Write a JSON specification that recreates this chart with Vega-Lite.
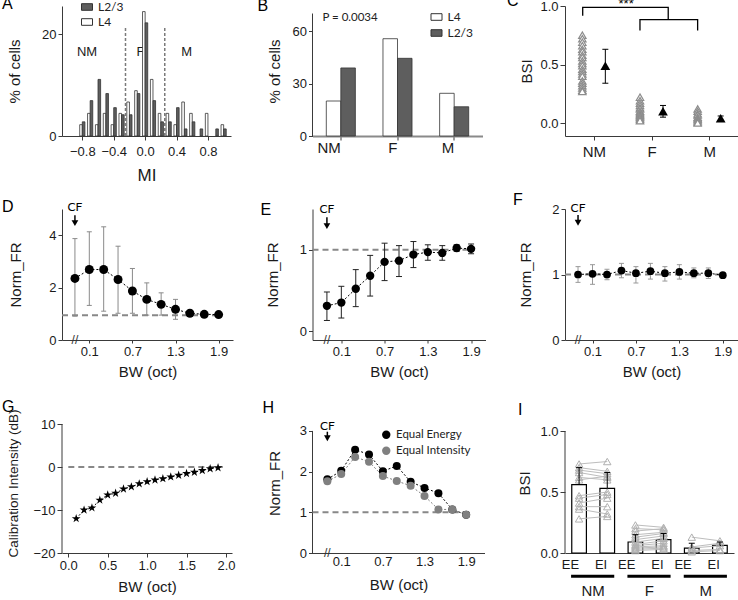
{
"$schema":"https://vega.github.io/schema/vega-lite/v6.json",
"background":"white",
"padding":{"left":2,"top":-7,"right":0,"bottom":0},
"config":{
 "view":{"stroke":null},
 "font":"Liberation Sans",
 "axis":{"grid":false,"domainColor":"#3a3a3a","tickColor":"#3a3a3a","labelColor":"#1a1a1a","titleColor":"#1a1a1a","labelFontSize":13,"titleFontSize":15,"titleFontWeight":"normal","tickSize":4,"labelFont":"Liberation Sans","titleFont":"Liberation Sans"},
 "title":{"fontSize":16,"fontWeight":"normal","anchor":"start","frame":"group","offset":0,"baseline":"alphabetic","font":"Liberation Sans","color":"#000000"}
},
"datasets":{
 "hist":[
  {"mi":-0.8,"layer":"L4","pct":2.22},{"mi":-0.7,"layer":"L4","pct":4.44},{"mi":-0.6,"layer":"L4","pct":2.22},{"mi":-0.5,"layer":"L4","pct":4.44},{"mi":-0.4,"layer":"L4","pct":2.22},{"mi":-0.3,"layer":"L4","pct":4.44},{"mi":-0.2,"layer":"L4","pct":6.67},{"mi":-0.1,"layer":"L4","pct":8.89},{"mi":0.0,"layer":"L4","pct":24.4},{"mi":0.1,"layer":"L4","pct":11.1},{"mi":0.2,"layer":"L4","pct":4.44},{"mi":0.3,"layer":"L4","pct":4.44},{"mi":0.4,"layer":"L4","pct":2.22},{"mi":0.5,"layer":"L4","pct":6.67},{"mi":0.6,"layer":"L4","pct":4.44},{"mi":0.8,"layer":"L4","pct":4.44},{"mi":1.0,"layer":"L4","pct":2.22},
  {"mi":-0.8,"layer":"L2/3","pct":2.78},{"mi":-0.7,"layer":"L2/3","pct":6.94},{"mi":-0.6,"layer":"L2/3","pct":11.1},{"mi":-0.5,"layer":"L2/3","pct":8.33},{"mi":-0.4,"layer":"L2/3","pct":5.56},{"mi":-0.3,"layer":"L2/3","pct":4.17},{"mi":-0.2,"layer":"L2/3","pct":4.17},{"mi":-0.1,"layer":"L2/3","pct":8.33},{"mi":0.0,"layer":"L2/3","pct":22.2},{"mi":0.1,"layer":"L2/3","pct":6.94},{"mi":0.2,"layer":"L2/3","pct":2.78},{"mi":0.3,"layer":"L2/3","pct":2.78},{"mi":0.4,"layer":"L2/3","pct":5.56},{"mi":0.5,"layer":"L2/3","pct":1.39},{"mi":0.6,"layer":"L2/3","pct":2.78},{"mi":0.7,"layer":"L2/3","pct":1.39},{"mi":0.9,"layer":"L2/3","pct":1.39},{"mi":1.0,"layer":"L2/3","pct":1.39}
 ],
 "cls":[
  {"cls":"NM","layer":"L4","pct":20.0},{"cls":"NM","layer":"L2/3","pct":38.9},{"cls":"F","layer":"L4","pct":55.6},{"cls":"F","layer":"L2/3","pct":44.4},{"cls":"M","layer":"L4","pct":24.4},{"cls":"M","layer":"L2/3","pct":16.7}
 ],
 "cInd":[
  {"gi":1,"bsi":0.75},{"gi":1,"bsi":0.72},{"gi":1,"bsi":0.69},{"gi":1,"bsi":0.66},{"gi":1,"bsi":0.63},{"gi":1,"bsi":0.61},{"gi":1,"bsi":0.58},{"gi":1,"bsi":0.56},{"gi":1,"bsi":0.53},{"gi":1,"bsi":0.51},{"gi":1,"bsi":0.49},{"gi":1,"bsi":0.46},{"gi":1,"bsi":0.44},{"gi":1,"bsi":0.42},{"gi":1,"bsi":0.4},{"gi":1,"bsi":0.36},{"gi":1,"bsi":0.34},{"gi":1,"bsi":0.32},{"gi":1,"bsi":0.3},{"gi":1,"bsi":0.28},{"gi":1,"bsi":0.27},
  {"gi":2,"bsi":0.22},{"gi":2,"bsi":0.19},{"gi":2,"bsi":0.17},{"gi":2,"bsi":0.15},{"gi":2,"bsi":0.13},{"gi":2,"bsi":0.12},{"gi":2,"bsi":0.1},{"gi":2,"bsi":0.09},{"gi":2,"bsi":0.08},{"gi":2,"bsi":0.07},{"gi":2,"bsi":0.06},{"gi":2,"bsi":0.05},{"gi":2,"bsi":0.04},{"gi":2,"bsi":0.03},{"gi":2,"bsi":0.02},
  {"gi":3,"bsi":0.12},{"gi":3,"bsi":0.1},{"gi":3,"bsi":0.08},{"gi":3,"bsi":0.07},{"gi":3,"bsi":0.05},{"gi":3,"bsi":0.04},{"gi":3,"bsi":0.03},{"gi":3,"bsi":0.02},{"gi":3,"bsi":0.01},{"gi":3,"bsi":0.0}
 ],
 "cMean":[{"gi":1,"m":0.49,"lo":0.34,"hi":0.63},{"gi":2,"m":0.1,"lo":0.05,"hi":0.15},{"gi":3,"m":0.04,"lo":0.02,"hi":0.06}],
 "cBr":[
  {"b":1,"o":1,"x":0.807,"y":0.917},{"b":1,"o":2,"x":0.807,"y":0.989},{"b":1,"o":3,"x":2.29,"y":0.989},{"b":1,"o":4,"x":2.29,"y":0.883},
  {"b":2,"o":1,"x":1.8,"y":0.79},{"b":2,"o":2,"x":1.8,"y":0.883},{"b":2,"o":3,"x":2.8,"y":0.883},{"b":2,"o":4,"x":2.8,"y":0.79}
 ],
 "dD":[{"bw":-0.1,"m":2.35,"lo":0.91,"hi":3.87},{"bw":0.1,"m":2.69,"lo":1.32,"hi":4.13},{"bw":0.3,"m":2.69,"lo":1.1,"hi":4.32},{"bw":0.5,"m":2.31,"lo":1.02,"hi":3.58},{"bw":0.7,"m":1.87,"lo":1.02,"hi":2.73},{"bw":0.9,"m":1.55,"lo":0.95,"hi":2.18},{"bw":1.1,"m":1.36,"lo":0.95,"hi":1.8},{"bw":1.3,"m":1.17,"lo":0.79,"hi":1.55},{"bw":1.5,"m":1.02,"lo":0.91,"hi":1.1},{"bw":1.7,"m":0.98,"lo":0.93,"hi":1.03},{"bw":1.9,"m":0.97,"lo":0.94,"hi":1.0}],
 "dE":[{"bw":-0.1,"m":0.31,"lo":0.13,"hi":0.48},{"bw":0.1,"m":0.35,"lo":0.16,"hi":0.55},{"bw":0.3,"m":0.52,"lo":0.3,"hi":0.755},{"bw":0.5,"m":0.68,"lo":0.43,"hi":0.93},{"bw":0.7,"m":0.85,"lo":0.62,"hi":1.08},{"bw":0.9,"m":0.865,"lo":0.67,"hi":1.05},{"bw":1.1,"m":0.94,"lo":0.78,"hi":1.1},{"bw":1.3,"m":0.97,"lo":0.87,"hi":1.06},{"bw":1.5,"m":0.96,"lo":0.87,"hi":1.05},{"bw":1.7,"m":1.02,"lo":0.98,"hi":1.06},{"bw":1.9,"m":1.01,"lo":0.95,"hi":1.07}],
 "dF":[{"bw":-0.1,"m":1.0,"lo":0.88,"hi":1.12},{"bw":0.1,"m":1.01,"lo":0.85,"hi":1.15},{"bw":0.3,"m":1.0,"lo":0.92,"hi":1.08},{"bw":0.5,"m":1.06,"lo":0.95,"hi":1.17},{"bw":0.7,"m":1.02,"lo":0.87,"hi":1.12},{"bw":0.9,"m":1.05,"lo":0.93,"hi":1.17},{"bw":1.1,"m":1.02,"lo":0.9,"hi":1.12},{"bw":1.3,"m":1.04,"lo":0.93,"hi":1.15},{"bw":1.5,"m":1.02,"lo":0.95,"hi":1.1},{"bw":1.7,"m":1.02,"lo":0.94,"hi":1.1},{"bw":1.9,"m":0.99,"lo":0.99,"hi":0.99}],
 "dG":[{"bw":0.1,"db":-12.0},{"bw":0.2,"db":-10.0},{"bw":0.3,"db":-9.5},{"bw":0.4,"db":-7.7},{"bw":0.5,"db":-6.5},{"bw":0.6,"db":-6.1},{"bw":0.7,"db":-5.1},{"bw":0.8,"db":-4.6},{"bw":0.9,"db":-3.9},{"bw":1.0,"db":-3.4},{"bw":1.1,"db":-3.0},{"bw":1.2,"db":-2.7},{"bw":1.3,"db":-2.3},{"bw":1.4,"db":-1.9},{"bw":1.5,"db":-1.5},{"bw":1.6,"db":-1.2},{"bw":1.7,"db":-0.8},{"bw":1.8,"db":-0.4},{"bw":1.9,"db":-0.15}],
 "dH":[
  {"bw":-0.1,"s":"Equal Energy","v":1.81},{"bw":0.1,"s":"Equal Energy","v":2.02},{"bw":0.3,"s":"Equal Energy","v":2.54},{"bw":0.5,"s":"Equal Energy","v":2.42},{"bw":0.7,"s":"Equal Energy","v":2.01},{"bw":0.9,"s":"Equal Energy","v":2.14},{"bw":1.1,"s":"Equal Energy","v":1.75},{"bw":1.3,"s":"Equal Energy","v":1.6},{"bw":1.5,"s":"Equal Energy","v":1.47},{"bw":1.7,"s":"Equal Energy","v":1.07},{"bw":1.9,"s":"Equal Energy","v":0.94},
  {"bw":-0.1,"s":"Equal Intensity","v":1.76},{"bw":0.1,"s":"Equal Intensity","v":1.94},{"bw":0.3,"s":"Equal Intensity","v":2.36},{"bw":0.5,"s":"Equal Intensity","v":2.24},{"bw":0.7,"s":"Equal Intensity","v":1.89},{"bw":0.9,"s":"Equal Intensity","v":1.77},{"bw":1.1,"s":"Equal Intensity","v":1.65},{"bw":1.3,"s":"Equal Intensity","v":1.4},{"bw":1.5,"s":"Equal Intensity","v":1.07},{"bw":1.7,"s":"Equal Intensity","v":1.07},{"bw":1.9,"s":"Equal Intensity","v":0.94}
 ],
 "iBar":[{"cat":"NM-EE","m":0.56,"hi":0.7},{"cat":"NM-EI","m":0.53,"hi":0.66},{"cat":"F-EE","m":0.09,"hi":0.15},{"cat":"F-EI","m":0.11,"hi":0.16},{"cat":"M-EE","m":0.04,"hi":0.08},{"cat":"M-EI","m":0.063,"hi":0.09}],
 "iInd":[
  {"c":"n1","cat":"NM-EE","v":0.73},{"c":"n1","cat":"NM-EI","v":0.75},{"c":"n2","cat":"NM-EE","v":0.7},{"c":"n2","cat":"NM-EI","v":0.67},{"c":"n3","cat":"NM-EE","v":0.68},{"c":"n3","cat":"NM-EI","v":0.65},{"c":"n4","cat":"NM-EE","v":0.66},{"c":"n4","cat":"NM-EI","v":0.62},{"c":"n5","cat":"NM-EE","v":0.62},{"c":"n5","cat":"NM-EI","v":0.6},{"c":"n6","cat":"NM-EE","v":0.6},{"c":"n6","cat":"NM-EI","v":0.63},{"c":"n7","cat":"NM-EE","v":0.47},{"c":"n7","cat":"NM-EI","v":0.5},{"c":"n8","cat":"NM-EE","v":0.45},{"c":"n8","cat":"NM-EI","v":0.48},{"c":"n9","cat":"NM-EE","v":0.41},{"c":"n9","cat":"NM-EI","v":0.45},{"c":"n10","cat":"NM-EE","v":0.38},{"c":"n10","cat":"NM-EI","v":0.38},{"c":"n11","cat":"NM-EE","v":0.36},{"c":"n11","cat":"NM-EI","v":0.32},{"c":"n12","cat":"NM-EE","v":0.28},{"c":"n12","cat":"NM-EI","v":0.3},
  {"c":"f1","cat":"F-EE","v":0.23},{"c":"f1","cat":"F-EI","v":0.21},{"c":"f2","cat":"F-EE","v":0.2},{"c":"f2","cat":"F-EI","v":0.19},{"c":"f3","cat":"F-EE","v":0.18},{"c":"f3","cat":"F-EI","v":0.2},{"c":"f4","cat":"F-EE","v":0.15},{"c":"f4","cat":"F-EI","v":0.17},{"c":"f5","cat":"F-EE","v":0.13},{"c":"f5","cat":"F-EI","v":0.16},{"c":"f6","cat":"F-EE","v":0.11},{"c":"f6","cat":"F-EI","v":0.14},{"c":"f7","cat":"F-EE","v":0.09},{"c":"f7","cat":"F-EI","v":0.12},{"c":"f8","cat":"F-EE","v":0.07},{"c":"f8","cat":"F-EI","v":0.1},{"c":"f9","cat":"F-EE","v":0.06},{"c":"f9","cat":"F-EI","v":0.08},{"c":"f10","cat":"F-EE","v":0.05},{"c":"f10","cat":"F-EI","v":0.06},{"c":"f11","cat":"F-EE","v":0.04},{"c":"f11","cat":"F-EI","v":0.05},{"c":"f12","cat":"F-EE","v":0.03},{"c":"f12","cat":"F-EI","v":0.04},{"c":"f13","cat":"F-EE","v":0.02},{"c":"f13","cat":"F-EI","v":0.03},
  {"c":"m1","cat":"M-EE","v":0.13},{"c":"m1","cat":"M-EI","v":0.1},{"c":"m2","cat":"M-EE","v":0.05},{"c":"m2","cat":"M-EI","v":0.08},{"c":"m3","cat":"M-EE","v":0.04},{"c":"m3","cat":"M-EI","v":0.06},{"c":"m4","cat":"M-EE","v":0.02},{"c":"m4","cat":"M-EI","v":0.03},{"c":"m5","cat":"M-EE","v":0.01},{"c":"m5","cat":"M-EI","v":0.02}
 ],
 "iGrp":[{"l":"NM-EE","r":"NM-EI","g":"NM"},{"l":"F-EE","r":"F-EI","g":"F"},{"l":"M-EE","r":"M-EI","g":"M"}]
},
"columns":3,
"spacing":{"row":73,"column":79.5},
"bounds":"flush",
"resolve":{"scale":{"x":"independent","y":"independent","fill":"independent","color":"independent","stroke":"independent"},"legend":{"fill":"independent","color":"independent","stroke":"independent"}},
"concat":[
  {"width":169,"height":130,"title":{"text":"A","dx":-60,"offset":-11},
   "layer":[
    {"data":{"values":[{"t":"NM","x":-0.74},{"t":"F","x":-0.06},{"t":"M","x":0.53}]},"mark":{"type":"text","fontSize":13,"baseline":"middle","color":"#1a1a1a"},
     "encoding":{"x":{"field":"x","type":"quantitative"},"y":{"datum":16.5},"text":{"field":"t"}}},
    {"data":{"values":[{"x":-0.25},{"x":0.25}]},"mark":{"type":"rule","color":"#7a7a7a","strokeWidth":1.5,"strokeDash":[3,2]},
     "encoding":{"x":{"field":"x","type":"quantitative"},"y":{"datum":0},"y2":{"datum":21.4}}},
    {"data":{"name":"hist"},"transform":[{"filter":"datum.layer == 'L4'"}],
     "mark":{"type":"bar","size":2.6,"xOffset":-1.3,"stroke":"#333333","strokeWidth":0.8},
     "encoding":{
      "x":{"field":"mi","type":"quantitative","scale":{"domain":[-0.995,1.03],"nice":false,"zero":false},"axis":{"values":[-0.8,-0.4,0,0.4,0.8],"format":".1f","title":"MI","titleFontSize":17,"labelPadding":5,"titlePadding":9}},
      "y":{"field":"pct","type":"quantitative","scale":{"domain":[0,25.5],"nice":false},"axis":{"values":[0,20],"title":"% of cells","titlePadding":19}},
      "fill":{"field":"layer","type":"nominal","scale":{"domain":["L2/3","L4"],"range":["#5e5e5e","#ffffff"]},
        "legend":{"orient":"none","legendX":19,"legendY":-5,"title":null,"symbolType":"M-1,-0.6H1V0.6H-1Z","symbolSize":121,"symbolStrokeColor":"#333333","symbolStrokeWidth":1,"labelFont":"Lato","labelFontSize":12,"labelColor":"#222222","rowPadding":3,"labelOffset":5,"padding":0}}}},
    {"data":{"name":"hist"},"transform":[{"filter":"datum.layer == 'L2/3'"}],
     "mark":{"type":"bar","size":2.6,"xOffset":1.3,"stroke":"#333333","strokeWidth":0.8},
     "encoding":{
      "x":{"field":"mi","type":"quantitative"},
      "y":{"field":"pct","type":"quantitative"},
      "fill":{"field":"layer","type":"nominal"}}}
   ]},
  {"width":170,"height":130,"title":{"text":"B","dx":-55,"offset":-8},
   "layer":[
    {"data":{"values":[{}]},"mark":{"type":"rule","color":"#3a3a3a"},
     "encoding":{"x":{"datum":"NM","type":"nominal","bandPosition":0},"y":{"datum":0,"type":"quantitative"},"y2":{"datum":70}}},
    {"data":{"name":"cls"},"mark":{"type":"bar","stroke":"#333333","strokeWidth":0.8},
     "encoding":{
      "x":{"field":"cls","type":"nominal","scale":{"domain":["NM","F","M"],"paddingInner":0,"paddingOuter":0},"axis":{"title":null,"labelAngle":0,"labelFontSize":15,"domainColor":"#8a8a8a","domainWidth":2,"labelPadding":7}},
      "xOffset":{"field":"layer","type":"nominal","scale":{"domain":["L4","L2/3"],"paddingInner":0,"paddingOuter":0.95}},
      "y":{"field":"pct","type":"quantitative","scale":{"domain":[0,74.3],"nice":false},"axis":{"values":[0,30,60],"title":"% of cells","domain":false,"titlePadding":10}},
      "fill":{"field":"layer","type":"nominal","scale":{"domain":["L4","L2/3"],"range":["#ffffff","#5e5e5e"]},
        "legend":{"orient":"none","legendX":118,"legendY":5,"title":null,"symbolType":"M-1,-0.6H1V0.6H-1Z","symbolSize":121,"symbolStrokeColor":"#333333","symbolStrokeWidth":1,"labelFont":"Lato","labelFontSize":12,"labelColor":"#222222","rowPadding":4,"labelOffset":5,"padding":0}}}},
    {"data":{"values":[{}]},"mark":{"type":"text","align":"left","baseline":"middle","font":"Lato","fontSize":11.5,"dx":10,"color":"#222222"},
     "encoding":{"x":{"datum":"NM","type":"nominal","bandPosition":0},"y":{"datum":67.5,"type":"quantitative"},"text":{"value":"P = 0.0034"}}}
   ]},
  {"width":173,"height":130,"title":{"text":"C","dx":-58,"offset":-11},
   "layer":[
    {"data":{"name":"cInd"},"mark":{"type":"point","shape":"triangle-up","size":55,"filled":true,"fill":"#ffffff","stroke":"#8c8c8c","strokeWidth":1.2,"opacity":1,"xOffset":-11.5},
     "encoding":{
      "x":{"field":"gi","type":"quantitative","scale":{"domain":[0.5,3.5],"nice":false,"zero":false},"axis":{"values":[1,2,3],"labelExpr":"datum.value == 1 ? 'NM' : datum.value == 2 ? 'F' : 'M'","title":null,"labelFontSize":15,"labelPadding":4}},
      "y":{"field":"bsi","type":"quantitative","scale":{"domain":[-0.111,1.0],"nice":false,"zero":false},"axis":{"values":[0,0.25,0.5,0.75,1],"labelExpr":"(datum.value*4)%2 == 1 ? '' : format(datum.value,'.1f')","tickSize":{"condition":{"test":"(datum.value*4)%2 == 1","value":3},"value":5},"title":"BSI","titlePadding":5}}}},
    {"data":{"name":"cMean"},"mark":{"type":"rule","color":"#000000","xOffset":11.5},
     "encoding":{"x":{"field":"gi","type":"quantitative"},"y":{"field":"lo","type":"quantitative"},"y2":{"field":"hi"}}},
    {"data":{"name":"cMean"},"mark":{"type":"point","shape":"stroke","size":36,"filled":false,"color":"#000000","strokeWidth":1,"opacity":1,"xOffset":11.5},
     "encoding":{"x":{"field":"gi","type":"quantitative"},"y":{"field":"lo","type":"quantitative"}}},
    {"data":{"name":"cMean"},"mark":{"type":"point","shape":"stroke","size":36,"filled":false,"color":"#000000","strokeWidth":1,"opacity":1,"xOffset":11.5},
     "encoding":{"x":{"field":"gi","type":"quantitative"},"y":{"field":"hi","type":"quantitative"}}},
    {"data":{"name":"cMean"},"mark":{"type":"point","shape":"triangle-up","size":95,"filled":true,"color":"#000000","opacity":1,"xOffset":11.5},
     "encoding":{"x":{"field":"gi","type":"quantitative"},"y":{"field":"m","type":"quantitative"}}},
    {"data":{"name":"cBr"},"mark":{"type":"line","color":"#000000","strokeWidth":1.3},
     "encoding":{"x":{"field":"x","type":"quantitative"},"y":{"field":"y","type":"quantitative"},"detail":{"field":"b"},"order":{"field":"o"}}},
    {"data":{"values":[{}]},"mark":{"type":"text","fontSize":13,"baseline":"alphabetic","color":"#000000"},
     "encoding":{"x":{"datum":1.56},"y":{"datum":0.98},"text":{"value":"***"}}}
   ]},
  {"width":171,"height":131,"title":{"text":"D","dx":-60,"offset":-13.7},
   "data":{"name":"dD"},
   "layer":[
    {"data":{"values":[{}]},"mark":{"type":"rule","color":"#888888","strokeWidth":2,"strokeDash":[6,4]},"encoding":{"x":{"datum":-0.28},"x2":{"datum":1.93},"y":{"datum":0.94}}},
    {"mark":{"type":"rule","color":"#8a8a8a"},"encoding":{"x":{"field":"bw","type":"quantitative"},"y":{"field":"lo","type":"quantitative"},"y2":{"field":"hi"}}},
    {"mark":{"type":"point","shape":"stroke","size":25,"filled":false,"color":"#8a8a8a","strokeWidth":1,"opacity":1},"encoding":{"x":{"field":"bw","type":"quantitative"},"y":{"field":"lo","type":"quantitative"}}},
    {"mark":{"type":"point","shape":"stroke","size":25,"filled":false,"color":"#8a8a8a","strokeWidth":1,"opacity":1},"encoding":{"x":{"field":"bw","type":"quantitative"},"y":{"field":"hi","type":"quantitative"}}},
    {"mark":{"type":"line","color":"#000000","strokeWidth":1,"strokeDash":[2,2]},"encoding":{"x":{"field":"bw","type":"quantitative"},"y":{"field":"m","type":"quantitative"}}},
    {"mark":{"type":"point","shape":"circle","filled":true,"color":"#000000","size":80,"opacity":1},
     "encoding":{
      "x":{"field":"bw","type":"quantitative","scale":{"domain":[-0.28,2.1],"nice":false,"zero":false},"axis":{"values":[0.1,0.7,1.3,1.9],"format":".1f","title":"BW (oct)","tickSize":3,"titlePadding":6}},
      "y":{"field":"m","type":"quantitative","scale":{"domain":[0,5],"nice":false,"zero":false},"axis":{"values":[0,2,4],"format":".0f","title":"Norm_FR","titlePadding":25}}}},
    {"data":{"values":[{}]},"mark":{"type":"text","font":"Lato","fontSize":12,"baseline":"middle","color":"#000000"},"encoding":{"x":{"datum":-0.1},"y":{"datum":5.06},"text":{"value":"CF"}}},
    {"data":{"values":[{}]},"mark":{"type":"rule","color":"#000000","strokeWidth":1.5},"encoding":{"x":{"datum":-0.1},"y":{"datum":4.76},"y2":{"datum":4.5}}},
    {"data":{"values":[{}]},"mark":{"type":"point","shape":"triangle-down","filled":true,"color":"#000000","size":45,"opacity":1},"encoding":{"x":{"datum":-0.1},"y":{"datum":4.46}}},
    {"data":{"values":[{}]},"mark":{"type":"text","fontSize":12,"baseline":"middle","color":"#333333"},"encoding":{"x":{"datum":-0.1},"y":{"datum":0},"text":{"value":"//"}}}
   ]},
  {"width":173,"height":131,"title":{"text":"E","dx":-52,"offset":-15},
   "data":{"name":"dE"},
   "layer":[
    {"data":{"values":[{}]},"mark":{"type":"rule","color":"#888888","strokeWidth":2,"strokeDash":[6,4]},"encoding":{"x":{"datum":-0.3},"x2":{"datum":1.95},"y":{"datum":1.0}}},
    {"mark":{"type":"rule","color":"#222222"},"encoding":{"x":{"field":"bw","type":"quantitative"},"y":{"field":"lo","type":"quantitative"},"y2":{"field":"hi"}}},
    {"mark":{"type":"point","shape":"stroke","size":36,"filled":false,"color":"#222222","strokeWidth":1,"opacity":1},"encoding":{"x":{"field":"bw","type":"quantitative"},"y":{"field":"lo","type":"quantitative"}}},
    {"mark":{"type":"point","shape":"stroke","size":36,"filled":false,"color":"#222222","strokeWidth":1,"opacity":1},"encoding":{"x":{"field":"bw","type":"quantitative"},"y":{"field":"hi","type":"quantitative"}}},
    {"mark":{"type":"line","color":"#000000","strokeWidth":1,"strokeDash":[2,2]},"encoding":{"x":{"field":"bw","type":"quantitative"},"y":{"field":"m","type":"quantitative"}}},
    {"mark":{"type":"point","shape":"circle","filled":true,"color":"#000000","size":70,"opacity":1},
     "encoding":{
      "x":{"field":"bw","type":"quantitative","scale":{"domain":[-0.3,2.1],"nice":false,"zero":false},"axis":{"values":[0.1,0.7,1.3,1.9],"format":".1f","title":"BW (oct)","tickSize":3,"titlePadding":6}},
      "y":{"field":"m","type":"quantitative","scale":{"domain":[-0.11,1.5],"nice":false,"zero":false},"axis":{"values":[0,1],"format":".0f","title":"Norm_FR","titlePadding":19}}}},
    {"data":{"values":[{}]},"mark":{"type":"text","font":"Lato","fontSize":12,"baseline":"middle","color":"#000000"},"encoding":{"x":{"datum":-0.1},"y":{"datum":1.495},"text":{"value":"CF"}}},
    {"data":{"values":[{}]},"mark":{"type":"rule","color":"#000000","strokeWidth":1.5},"encoding":{"x":{"datum":-0.1},"y":{"datum":1.4},"y2":{"datum":1.31}}},
    {"data":{"values":[{}]},"mark":{"type":"point","shape":"triangle-down","filled":true,"color":"#000000","size":45,"opacity":1},"encoding":{"x":{"datum":-0.1},"y":{"datum":1.29}}},
    {"data":{"values":[{}]},"mark":{"type":"text","fontSize":12,"baseline":"middle","color":"#333333"},"encoding":{"x":{"datum":-0.1},"y":{"datum":-0.11},"text":{"value":"//"}}}
   ]},
  {"width":173,"height":131,"title":{"text":"F","dx":-52,"offset":-6},
   "data":{"name":"dF"},
   "layer":[
    {"data":{"values":[{}]},"mark":{"type":"rule","color":"#888888","strokeWidth":2,"strokeDash":[6,4]},"encoding":{"x":{"datum":-0.28},"x2":{"datum":1.9},"y":{"datum":1.0}}},
    {"mark":{"type":"rule","color":"#999999"},"encoding":{"x":{"field":"bw","type":"quantitative"},"y":{"field":"lo","type":"quantitative"},"y2":{"field":"hi"}}},
    {"mark":{"type":"point","shape":"stroke","size":25,"filled":false,"color":"#999999","strokeWidth":1,"opacity":1},"encoding":{"x":{"field":"bw","type":"quantitative"},"y":{"field":"lo","type":"quantitative"}}},
    {"mark":{"type":"point","shape":"stroke","size":25,"filled":false,"color":"#999999","strokeWidth":1,"opacity":1},"encoding":{"x":{"field":"bw","type":"quantitative"},"y":{"field":"hi","type":"quantitative"}}},
    {"mark":{"type":"line","color":"#000000","strokeWidth":1,"strokeDash":[2,2]},"encoding":{"x":{"field":"bw","type":"quantitative"},"y":{"field":"m","type":"quantitative"}}},
    {"mark":{"type":"point","shape":"circle","filled":true,"color":"#000000","size":60,"opacity":1},
     "encoding":{
      "x":{"field":"bw","type":"quantitative","scale":{"domain":[-0.28,2.11],"nice":false,"zero":false},"axis":{"values":[0.1,0.7,1.3,1.9],"format":".1f","title":"BW (oct)","tickSize":3,"titlePadding":6}},
      "y":{"field":"m","type":"quantitative","scale":{"domain":[0,2],"nice":false,"zero":false},"axis":{"values":[0,1,2],"format":".0f","title":"Norm_FR","titlePadding":18}}}},
    {"data":{"values":[{}]},"mark":{"type":"text","font":"Lato","fontSize":12,"baseline":"middle","color":"#000000"},"encoding":{"x":{"datum":-0.1},"y":{"datum":2.02},"text":{"value":"CF"}}},
    {"data":{"values":[{}]},"mark":{"type":"rule","color":"#000000","strokeWidth":1.5},"encoding":{"x":{"datum":-0.1},"y":{"datum":1.91},"y2":{"datum":1.8}}},
    {"data":{"values":[{}]},"mark":{"type":"point","shape":"triangle-down","filled":true,"color":"#000000","size":45,"opacity":1},"encoding":{"x":{"datum":-0.1},"y":{"datum":1.79}}},
    {"data":{"values":[{}]},"mark":{"type":"text","fontSize":12,"baseline":"middle","color":"#333333"},"encoding":{"x":{"datum":-0.1},"y":{"datum":0},"text":{"value":"//"}}}
   ]},
  {"width":170,"height":140,"title":{"text":"G","dx":-60,"offset":-6.2},
   "data":{"name":"dG"},
   "layer":[
    {"data":{"values":[{}]},"mark":{"type":"rule","color":"#3a3a3a"},"encoding":{"x":{"datum":-0.08},"y":{"datum":-20},"y2":{"datum":10}}},
    {"data":{"values":[{}]},"mark":{"type":"rule","color":"#888888","strokeWidth":2,"strokeDash":[6,4]},"encoding":{"x":{"datum":0.0},"x2":{"datum":1.96},"y":{"datum":0}}},
    {"mark":{"type":"line","color":"#000000","strokeWidth":1,"strokeDash":[2,2]},"encoding":{"x":{"field":"bw","type":"quantitative"},"y":{"field":"db","type":"quantitative"}}},
    {"mark":{"type":"point","shape":"M0,-1L0.2245,-0.309L0.951,-0.309L0.363,0.118L0.588,0.809L0,0.382L-0.588,0.809L-0.363,0.118L-0.951,-0.309L-0.2245,-0.309Z","filled":true,"color":"#000000","size":85,"opacity":1},
     "encoding":{
      "x":{"field":"bw","type":"quantitative","scale":{"domain":[-0.08,2.077],"nice":false,"zero":false},"axis":{"values":[0,0.5,1,1.5,2],"format":".1f","title":"BW (oct)","titlePadding":7}},
      "y":{"field":"db","type":"quantitative","scale":{"domain":[-20,12.56],"nice":false,"zero":false},"axis":{"values":[-20,-15,-10,-5,0,5,10],"labelExpr":"datum.value % 10 == 0 ? datum.label : ''","tickSize":{"condition":{"test":"datum.value % 10 != 0","value":3},"value":5},"domain":false,"title":"Calibration Intensity (dB)","titleFontSize":13.5,"titlePadding":12}}}}
   ]},
  {"width":172,"height":140,"title":{"text":"H","dx":-50,"offset":-3},
   "data":{"name":"dH"},
   "layer":[
    {"data":{"values":[{}]},"mark":{"type":"rule","color":"#3a3a3a"},"encoding":{"x":{"datum":-0.314},"y":{"datum":0},"y2":{"datum":3}}},
    {"data":{"values":[{}]},"mark":{"type":"rule","color":"#888888","strokeWidth":2,"strokeDash":[6,4]},"encoding":{"x":{"datum":-0.314},"x2":{"datum":1.9},"y":{"datum":1.0}}},
    {"transform":[{"filter":"datum.s == 'Equal Energy'"}],"mark":{"type":"line","color":"#000000","strokeWidth":1,"strokeDash":[2,2]},"encoding":{"x":{"field":"bw","type":"quantitative"},"y":{"field":"v","type":"quantitative"}}},
    {"transform":[{"filter":"datum.s == 'Equal Intensity'"}],"mark":{"type":"line","color":"#808080","strokeWidth":1,"strokeDash":[2,2]},"encoding":{"x":{"field":"bw","type":"quantitative"},"y":{"field":"v","type":"quantitative"}}},
    {"mark":{"type":"point","shape":"circle","filled":true,"size":64,"opacity":1},
     "encoding":{
      "x":{"field":"bw","type":"quantitative","scale":{"domain":[-0.314,2.164],"nice":false,"zero":false},"axis":{"values":[0.1,0.7,1.3,1.9],"format":".1f","title":"BW (oct)","tickSize":0,"titlePadding":9}},
      "y":{"field":"v","type":"quantitative","scale":{"domain":[0,3.44],"nice":false,"zero":false},"axis":{"values":[0,1,2,3],"format":".0f","domain":false,"title":"Norm_FR","titlePadding":17}},
      "color":{"field":"s","type":"nominal","scale":{"domain":["Equal Energy","Equal Intensity"],"range":["#000000","#808080"]},
        "legend":{"orient":"none","legendX":68,"legendY":16,"title":null,"symbolType":"circle","symbolSize":70,"labelFont":"Lato","labelFontSize":11.5,"labelColor":"#222222","rowPadding":3,"labelOffset":4,"padding":0}}}},
    {"data":{"values":[{}]},"mark":{"type":"text","font":"Lato","fontSize":12,"baseline":"middle","color":"#000000"},"encoding":{"x":{"datum":-0.1},"y":{"datum":3.12},"text":{"value":"CF"}}},
    {"data":{"values":[{}]},"mark":{"type":"rule","color":"#000000","strokeWidth":1.5},"encoding":{"x":{"datum":-0.1},"y":{"datum":2.98},"y2":{"datum":2.84}}},
    {"data":{"values":[{}]},"mark":{"type":"point","shape":"triangle-down","filled":true,"color":"#000000","size":45,"opacity":1},"encoding":{"x":{"datum":-0.1},"y":{"datum":2.82}}},
    {"data":{"values":[{}]},"mark":{"type":"text","fontSize":12,"baseline":"middle","color":"#333333"},"encoding":{"x":{"datum":-0.1},"y":{"datum":0},"text":{"value":"//"}}}
   ]},
  {"width":169,"height":140,"title":{"text":"I","dx":-47,"offset":-4.7},
   "layer":[
    {"data":{"values":[{}]},"mark":{"type":"rule","color":"#3a3a3a"},"encoding":{"x":{"datum":"NM-EE","type":"nominal","bandPosition":0},"y":{"datum":0,"type":"quantitative"},"y2":{"datum":1.0}}},
    {"data":{"name":"iBar"},"mark":{"type":"bar","width":{"band":0.52},"fill":"#ffffff","stroke":"#000000","strokeWidth":1.2},
     "encoding":{
      "x":{"field":"cat","type":"nominal","scale":{"domain":["NM-EE","NM-EI","F-EE","F-EI","M-EE","M-EI"],"paddingInner":0,"paddingOuter":0},"axis":{"title":null,"labelAngle":0,"labelExpr":"split(datum.label,'-')[1]","labelFontSize":13,"tickSize":0,"labelPadding":11}},
      "y":{"field":"m","type":"quantitative","scale":{"domain":[0,1.148],"nice":false,"zero":false},"axis":{"values":[0,0.25,0.5,0.75,1],"labelExpr":"(datum.value*4)%2 == 1 ? '' : format(datum.value,'.1f')","tickSize":{"condition":{"test":"(datum.value*4)%2 == 1","value":3},"value":5},"domain":false,"title":"BSI","titlePadding":7}}}},
    {"data":{"name":"iInd"},"mark":{"type":"line","color":"#bdbdbd","strokeWidth":1},
     "encoding":{"x":{"field":"cat","type":"nominal"},"y":{"field":"v","type":"quantitative"},"detail":{"field":"c"}}},
    {"data":{"name":"iInd"},"mark":{"type":"point","shape":"triangle-up","size":55,"filled":false,"color":"#b0b0b0","strokeWidth":1,"opacity":1},
     "encoding":{"x":{"field":"cat","type":"nominal"},"y":{"field":"v","type":"quantitative"}}},
    {"data":{"name":"iBar"},"mark":{"type":"rule","color":"#000000"},"encoding":{"x":{"field":"cat","type":"nominal"},"y":{"field":"m","type":"quantitative"},"y2":{"field":"hi"}}},
    {"data":{"name":"iBar"},"mark":{"type":"point","shape":"stroke","size":36,"filled":false,"color":"#000000","strokeWidth":1,"opacity":1},"encoding":{"x":{"field":"cat","type":"nominal"},"y":{"field":"hi","type":"quantitative"}}},
    {"data":{"name":"iGrp"},"mark":{"type":"rule","color":"#000000","strokeWidth":3,"xOffset":-8,"x2Offset":7},
     "encoding":{"x":{"field":"l","type":"nominal"},"x2":{"field":"r"},"y":{"datum":-0.19}}},
    {"data":{"name":"iGrp"},"mark":{"type":"text","fontSize":15,"baseline":"middle","dx":14,"color":"#1a1a1a"},
     "encoding":{"x":{"field":"l","type":"nominal"},"y":{"datum":-0.31},"text":{"field":"g"}}}
   ]}
]
}
